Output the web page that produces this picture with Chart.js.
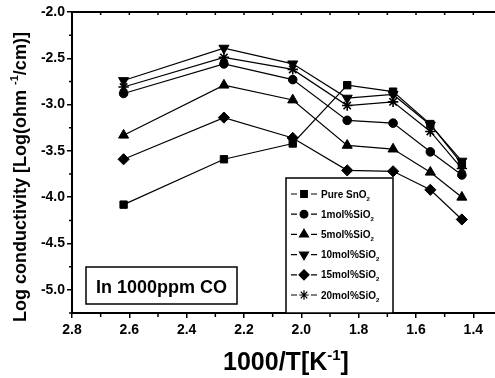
<!DOCTYPE html>
<html>
<head>
<meta charset="utf-8">
<script src="https://cdn.jsdelivr.net/npm/chart.js@4.4.1/dist/chart.umd.min.js"></script>
<style>
    html, body { margin: 0; padding: 0; background: #fff; overflow: hidden; width: 495px; height: 378px; }
</style>
</head>
<body>
<canvas id="chart" width="510" height="378"></canvas>
<script>
    // 1000/T values shared by every series
    const xValues = [2.62, 2.27, 2.03, 1.84, 1.68, 1.55, 1.44];

    // Log conductivity for each composition
    const pureSnO2 = [-4.08, -3.59, -3.42, -2.79, -2.86, -3.21, -3.64];
    const sio2_1mol = [-2.88, -2.56, -2.73, -3.17, -3.20, -3.51, -3.76];
    const sio2_5mol = [-3.33, -2.79, -2.95, -3.44, -3.48, -3.73, -4.00];
    const sio2_10mol = [-2.74, -2.39, -2.56, -2.93, -2.89, -3.22, -3.61];
    const sio2_15mol = [-3.59, -3.14, -3.36, -3.71, -3.72, -3.92, -4.24];
    const sio2_20mol = [-2.81, -2.49, -2.62, -3.01, -2.97, -3.29, -3.69];

    const seriesNames = ["Pure SnO\u2082", "1mol%SiO\u2082", "5mol%SiO\u2082", "10mol%SiO\u2082", "15mol%SiO\u2082", "20mol%SiO\u2082"];
    const seriesValues = [pureSnO2, sio2_1mol, sio2_5mol, sio2_10mol, sio2_15mol, sio2_20mol];

    // tick labels
    const xTickValues = [2.8, 2.6, 2.4, 2.2, 2.0, 1.8, 1.6, 1.4];
    const yTickValues = [-2.0, -2.5, -3.0, -3.5, -4.0, -4.5, -5.0];
    const xMinorTicks = [2.7, 2.5, 2.3, 2.1, 1.9, 1.7, 1.5];
    const yMinorTicks = [-2.25, -2.75, -3.25, -3.75, -4.25, -4.75, -5.25];

    const annotationText = "In 1000ppm CO";

    const FONT = '"Liberation Sans", Arial, sans-serif';
    const markers = [
        { style: "rect", radius: 5.2, rotation: 0 },
        { style: "circle", radius: 4.3, rotation: 0 },
        { style: "triangle", radius: 5.8, rotation: 0 },
        { style: "triangle", radius: 5.8, rotation: 180 },
        { style: "rectRot", radius: 5.6, rotation: 0 },
        { style: "star", radius: 5.2, rotation: 0 },
    ];

    // draws text pieces, some raised or lowered, centred on x when centre is true
    const drawRuns = (ctx, runs, x, y, size, centre) => {
        const small = Math.round(size * 0.6);
        const fontFor = (r) => `bold ${r.kind ? small : size}px ${FONT}`;
        let total = 0;
        runs.forEach((r) => { ctx.font = fontFor(r); total += ctx.measureText(r.t).width; });
        let cx = centre ? x - total / 2 : x;
        ctx.textAlign = "left";
        ctx.textBaseline = "alphabetic";
        runs.forEach((r) => {
            ctx.font = fontFor(r);
            let dy = 0;
            if (r.kind === "sup") dy = -size * 0.42;
            if (r.kind === "sub") dy = size * 0.3;
            ctx.fillText(r.t, cx, y + dy);
            cx += ctx.measureText(r.t).width;
        });
    };

    const splitSub = (label) => {
        const parts = label.split("\u2082");
        return [{ t: parts[0] }, { t: "2", kind: "sub" }];
    };

    const extras = {
        id: "extras",
        afterDraw(chart) {
            const { ctx, chartArea: a, scales } = chart;
            const xs = scales.x, ys = scales.y;
            ctx.save();
            ctx.strokeStyle = "#000";
            ctx.fillStyle = "#000";

            // top and right frame lines
            ctx.lineWidth = 2;
            ctx.beginPath();
            ctx.moveTo(a.left, a.top);
            ctx.lineTo(a.right, a.top);
            ctx.lineTo(a.right, a.bottom);
            ctx.stroke();

            // minor ticks on the left and bottom axes, inner ticks on top and right
            ctx.lineWidth = 1.5;
            ctx.beginPath();
            yMinorTicks.forEach((v) => {
                const py = ys.getPixelForValue(v);
                ctx.moveTo(a.left, py);
                ctx.lineTo(a.left - 3, py);
            });
            xMinorTicks.forEach((v) => {
                const px = xs.getPixelForValue(v);
                ctx.moveTo(px, a.bottom);
                ctx.lineTo(px, a.bottom + 4);
            });
            xTickValues.concat(xMinorTicks).forEach((v) => {
                const px = xs.getPixelForValue(v);
                ctx.moveTo(px, a.top);
                ctx.lineTo(px, a.top + 3);
            });
            yTickValues.forEach((v) => {
                const py = ys.getPixelForValue(v);
                ctx.moveTo(a.right, py);
                ctx.lineTo(a.right - 5, py);
            });
            ctx.stroke();

            // annotation box
            ctx.lineWidth = 1.5;
            ctx.fillStyle = "#fff";
            ctx.fillRect(86, 267, 151, 37);
            ctx.strokeRect(86, 267, 151, 37);
            ctx.fillStyle = "#000";
            ctx.font = `bold 18px ${FONT}`;
            ctx.textAlign = "center";
            ctx.textBaseline = "alphabetic";
            ctx.fillText(annotationText, 161.5, 293);

            // legend box
            const lx = 286, ly = 178, lw = 107, lh = a.bottom - 178;
            ctx.fillStyle = "#fff";
            ctx.fillRect(lx, ly, lw, lh);
            ctx.strokeRect(lx, ly, lw, lh);
            ctx.fillStyle = "#000";
            const drawPoint = Chart.helpers && Chart.helpers.drawPoint;
            seriesNames.forEach((name, i) => {
                const ry = 194 + i * 20.2;
                ctx.lineWidth = 1.2;
                ctx.beginPath();
                ctx.moveTo(291, ry); ctx.lineTo(297, ry);
                ctx.moveTo(311, ry); ctx.lineTo(317, ry);
                ctx.stroke();
                const m = markers[i];
                if (drawPoint) {
                    ctx.fillStyle = "#000";
                    ctx.lineWidth = 1.2;
                    drawPoint(ctx, { pointStyle: m.style, radius: m.radius * 0.9, rotation: m.rotation, borderWidth: 1.2 }, 304, ry);
                }
                ctx.fillStyle = "#000";
                drawRuns(ctx, splitSub(name), 321, ry + 3.5, 10, false);
            });

            // axis titles
            drawRuns(ctx, [{ t: "1000/T[K" }, { t: "-1", kind: "sup" }, { t: "]" }], 286, 370, 25, true);
            ctx.translate(26, 177);
            ctx.rotate(-Math.PI / 2);
            drawRuns(ctx, [{ t: "Log conductivity [Log(ohm " }, { t: "-1", kind: "sup" }, { t: "/cm)]" }], 0, 0, 18, true);
            ctx.restore();
        },
    };

    const tickFont = { family: FONT, size: 14, weight: "bold" };

    new Chart(document.getElementById("chart").getContext("2d"), {
        type: "scatter",
        data: {
            datasets: seriesValues.map((vals, i) => ({
                label: seriesNames[i],
                data: vals.map((y, j) => ({ x: xValues[j], y })),
                showLine: true,
                borderColor: "#000",
                borderWidth: 1.2,
                tension: 0,
                pointStyle: markers[i].style,
                pointRadius: markers[i].radius,
                pointRotation: markers[i].rotation,
                pointBackgroundColor: "#000",
                pointBorderColor: "#000",
                pointBorderWidth: markers[i].style === "star" ? 1.6 : 1,
            })),
        },
        options: {
            animation: false,
            responsive: false,
            devicePixelRatio: 1,
            layout: { padding: { top: 12, right: 8, left: 0, bottom: 0 } },
            plugins: { legend: { display: false }, tooltip: { enabled: false } },
            scales: {
                x: {
                    type: "linear",
                    reverse: true,
                    min: 1.3,
                    max: 2.8,
                    afterBuildTicks: (s) => { s.ticks = xTickValues.map((v) => ({ value: v })); },
                    afterFit: (s) => { s.height = 65; },
                    ticks: { callback: (v) => Number(v).toFixed(1), font: tickFont, color: "#000", padding: 4, maxRotation: 0, autoSkip: false },
                    grid: { drawOnChartArea: false, drawTicks: true, tickLength: 5, color: "#000", lineWidth: 1.5 },
                    border: { display: true, color: "#000", width: 2 },
                },
                y: {
                    type: "linear",
                    min: -5.25,
                    max: -2.0,
                    afterBuildTicks: (s) => { s.ticks = yTickValues.map((v) => ({ value: v })); },
                    afterFit: (s) => { s.width = 72; },
                    ticks: { callback: (v) => Number(v).toFixed(1), font: tickFont, color: "#000", padding: 2, autoSkip: false },
                    grid: { drawOnChartArea: false, drawTicks: true, tickLength: 5, color: "#000", lineWidth: 1.5 },
                    border: { display: true, color: "#000", width: 2 },
                },
            },
        },
        plugins: [extras],
    });
</script>
</body>
</html>
